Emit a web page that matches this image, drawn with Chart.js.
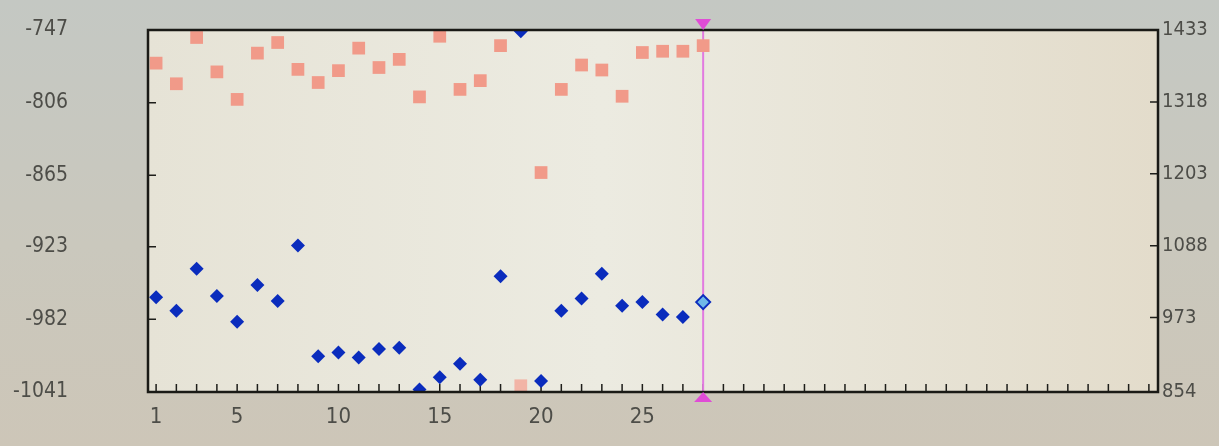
<!DOCTYPE html>
<html>
<head>
<meta charset="utf-8">
<script src="https://cdn.jsdelivr.net/npm/chart.js@4"></script>
<style>
  html, body { margin: 0; padding: 0; }
  body {
    width: 1219px; height: 446px; overflow: hidden;
    background: linear-gradient(180deg, #c4c8c3 0%, #cac8bd 55%, #cdc6b8 100%);
  }
  #grafico { display: block; }
</style>
</head>
<body>
<canvas id="grafico" width="1219" height="446"></canvas>
<script>
// amostras 1..28
const amostras = [1,2,3,4,5,6,7,8,9,10,11,12,13,14,15,16,17,18,19,20,21,22,23,24,25,26,27,28];
// serie azul (eixo esquerdo)
const serieAzul = [-964,-975,-941,-963,-984,-954,-967,-922,-1012,-1009,-1013,-1006,-1005,-1039,-1029,-1018,-1031,-947,-748,-1032,-975,-965,-945,-971,-968,-978,-980,-968];
// serie rosa (eixo direito)
const serieRosa = [1380,1347,1421,1366,1322,1396,1413,1370,1349,1368,1404,1373,1386,1326,1423,1338,1352,1408,864,1205,1338,1377,1369,1327,1397,1399,1399,1408];

const ticksEsq = [-747,-806,-865,-923,-982,-1041];
const ticksDir = [1433,1318,1203,1088,973,854];
const rotulosX = [1,5,10,15,20,25];
const ultimoX = 50;
const cursorX = 28;

const fonte = "'Liberation Sans Narrow', 'DejaVu Sans Condensed', sans-serif";
const corTexto = "#4d4d48";

// moldura, marcas internas e cursor
const moldura = {
    id: "moldura",
    beforeDatasetsDraw(chart) {
        const {ctx, chartArea: a} = chart;
        const g = ctx.createLinearGradient(a.left, 0, a.right, 0);
        g.addColorStop(0, "#e6e3d6");
        g.addColorStop(0.45, "#ecebe1");
        g.addColorStop(1, "#e3dccb");
        ctx.save();
        ctx.fillStyle = g;
        ctx.fillRect(a.left, a.top, a.right - a.left, a.bottom - a.top);

        ctx.strokeStyle = "#1e1e1a";
        ctx.lineWidth = 1.5;
        const x = chart.scales.x, yl = chart.scales.y, yr = chart.scales.y1;
        ctx.beginPath();
        x.ticks.forEach(t => {
            const px = x.getPixelForValue(t.value);
            ctx.moveTo(px, a.bottom);
            ctx.lineTo(px, a.bottom - 8);
        });
        yl.ticks.forEach(t => {
            const py = yl.getPixelForValue(t.value);
            ctx.moveTo(a.left, py);
            ctx.lineTo(a.left + 8, py);
        });
        yr.ticks.forEach(t => {
            const py = yr.getPixelForValue(t.value);
            ctx.moveTo(a.right, py);
            ctx.lineTo(a.right - 8, py);
        });
        ctx.stroke();

        // cursor vertical
        const cx = x.getPixelForValue(cursorX);
        ctx.strokeStyle = "#e27ae0";
        ctx.lineWidth = 2;
        ctx.beginPath();
        ctx.moveTo(cx, a.top);
        ctx.lineTo(cx, a.bottom);
        ctx.stroke();
        ctx.restore();
    },
    afterDraw(chart) {
        const {ctx, chartArea: a} = chart;
        ctx.save();
        ctx.strokeStyle = "#1a1a16";
        ctx.lineWidth = 2.5;
        ctx.strokeRect(a.left, a.top, a.right - a.left, a.bottom - a.top);

        const cx = chart.scales.x.getPixelForValue(cursorX);
        ctx.fillStyle = "#e04cd6";
        ctx.beginPath();
        ctx.moveTo(cx - 8, a.top - 11);
        ctx.lineTo(cx + 8, a.top - 11);
        ctx.lineTo(cx, a.top);
        ctx.closePath();
        ctx.fill();
        ctx.beginPath();
        ctx.moveTo(cx - 9, a.bottom + 10);
        ctx.lineTo(cx + 9, a.bottom + 10);
        ctx.lineTo(cx, a.bottom);
        ctx.closePath();
        ctx.fill();
        ctx.restore();
    }
};

// larguras fixas e sem folga extra nos eixos
function ajustaY(largura) {
    return s => { s.width = largura; s.paddingTop = 0; s.paddingBottom = 0; };
}

new Chart(document.getElementById("grafico"), {
    type: "scatter",
    data: {
        datasets: [
            {
                label: "rosa",
                yAxisID: "y1",
                data: amostras.map((d, i) => ({x: d, y: serieRosa[i]})),
                pointStyle: "rect",
                pointRadius: 9,
                pointBorderWidth: 0,
                backgroundColor: ctx => ctx.dataIndex === 18 ? "#f2b4a6" : "#f19a89",
                borderColor: "rgba(0,0,0,0)"
            },
            {
                label: "azul",
                yAxisID: "y",
                data: amostras.map((d, i) => ({x: d, y: serieAzul[i]})),
                pointStyle: "rectRot",
                pointRadius: 7,
                pointBorderWidth: ctx => ctx.dataIndex === 27 ? 2 : 0,
                backgroundColor: ctx => ctx.dataIndex === 27 ? "#6fb8e8" : "#0a2cbd",
                borderColor: "#0a2cbd"
            }
        ]
    },
    options: {
        responsive: false,
        animation: false,
        devicePixelRatio: 1,
        layout: { padding: { top: 30, left: 0, right: 0, bottom: 0 } },
        plugins: { legend: { display: false }, tooltip: { enabled: false } },
        scales: {
            x: {
                type: "linear",
                min: 0.6,
                max: ultimoX + 0.45,
                afterBuildTicks: s => { s.ticks = Array.from({length: ultimoX}, (_, i) => ({value: i + 1})); },
                afterFit: s => { s.height = 54; s.paddingLeft = 0; s.paddingRight = 0; },
                grid: { display: false, drawTicks: false },
                border: { display: false },
                ticks: {
                    autoSkip: false,
                    maxRotation: 0,
                    padding: 12,
                    color: corTexto,
                    font: { family: fonte, size: 22 },
                    callback: v => rotulosX.includes(v) ? String(v) : ""
                }
            },
            y: {
                position: "left",
                min: -1041,
                max: -747,
                afterBuildTicks: s => { s.ticks = ticksEsq.map(v => ({value: v})); },
                afterFit: ajustaY(148),
                grid: { display: false, drawTicks: false },
                border: { display: false },
                ticks: { padding: 80, color: corTexto, font: { family: fonte, size: 21 }, callback: v => String(v) }
            },
            y1: {
                position: "right",
                min: 854,
                max: 1433,
                afterBuildTicks: s => { s.ticks = ticksDir.map(v => ({value: v})); },
                afterFit: ajustaY(61),
                grid: { display: false, drawTicks: false },
                border: { display: false },
                ticks: { padding: 4, color: corTexto, font: { family: fonte, size: 20 }, callback: v => String(v) }
            }
        }
    },
    plugins: [moldura]
});
</script>
</body>
</html>
